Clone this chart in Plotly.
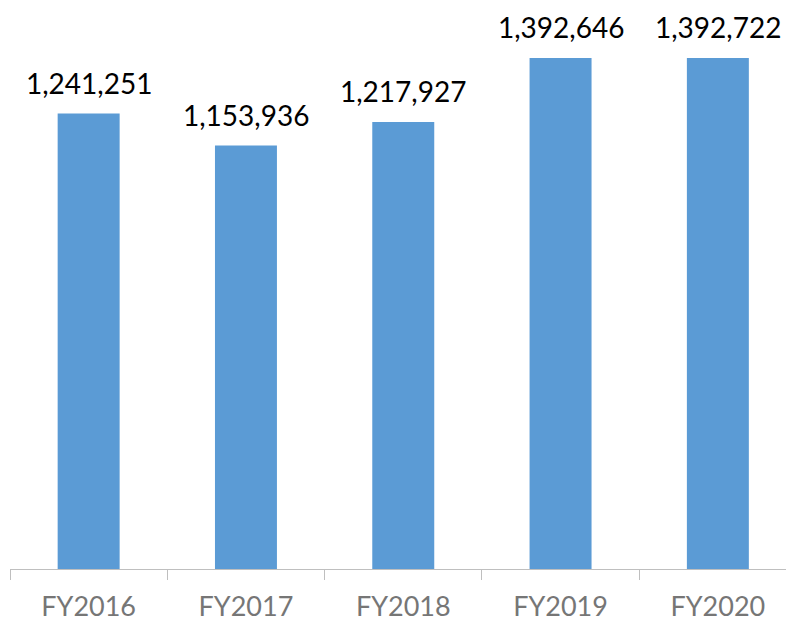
import plotly.graph_objects as go

categories = ["FY2016", "FY2017", "FY2018", "FY2019", "FY2020"]
values = [1241251, 1153936, 1217927, 1392646, 1392722]
value_labels = ["1,241,251", "1,153,936", "1,217,927", "1,392,646", "1,392,722"]

bar_color = "#5B9BD5"
font_family = "Lato, Open Sans, sans-serif"

fig = go.Figure()
fig.add_trace(go.Bar(
    x=categories, y=values, marker=dict(color=bar_color, line=dict(width=0)),
    width=0.394, hoverinfo="skip",
))

for c, v, t in zip(categories, values, value_labels):
    fig.add_annotation(x=c, y=v, text=t, showarrow=False, yanchor="bottom",
                       yshift=12, font=dict(family=font_family, size=28, color="#000000"))

fig.update_layout(
    width=786, height=614,
    margin=dict(l=2, r=0, t=0, b=53),
    paper_bgcolor="white", plot_bgcolor="white",
    showlegend=False,
    xaxis=dict(
        type="category", range=[-0.5, 4.484],
        showline=True, linecolor="#BFBFBF", linewidth=1,
        ticks="outside", tickson="boundaries", ticklen=10, tickcolor="#BFBFBF",
        ticklabelstandoff=14,
        tickfont=dict(family=font_family, size=27, color="#767676"),
        showgrid=False, zeroline=False,
    ),
    yaxis=dict(range=[0, 1528900], visible=False, showgrid=False, zeroline=False),
)

fig.write_html("out.html")
